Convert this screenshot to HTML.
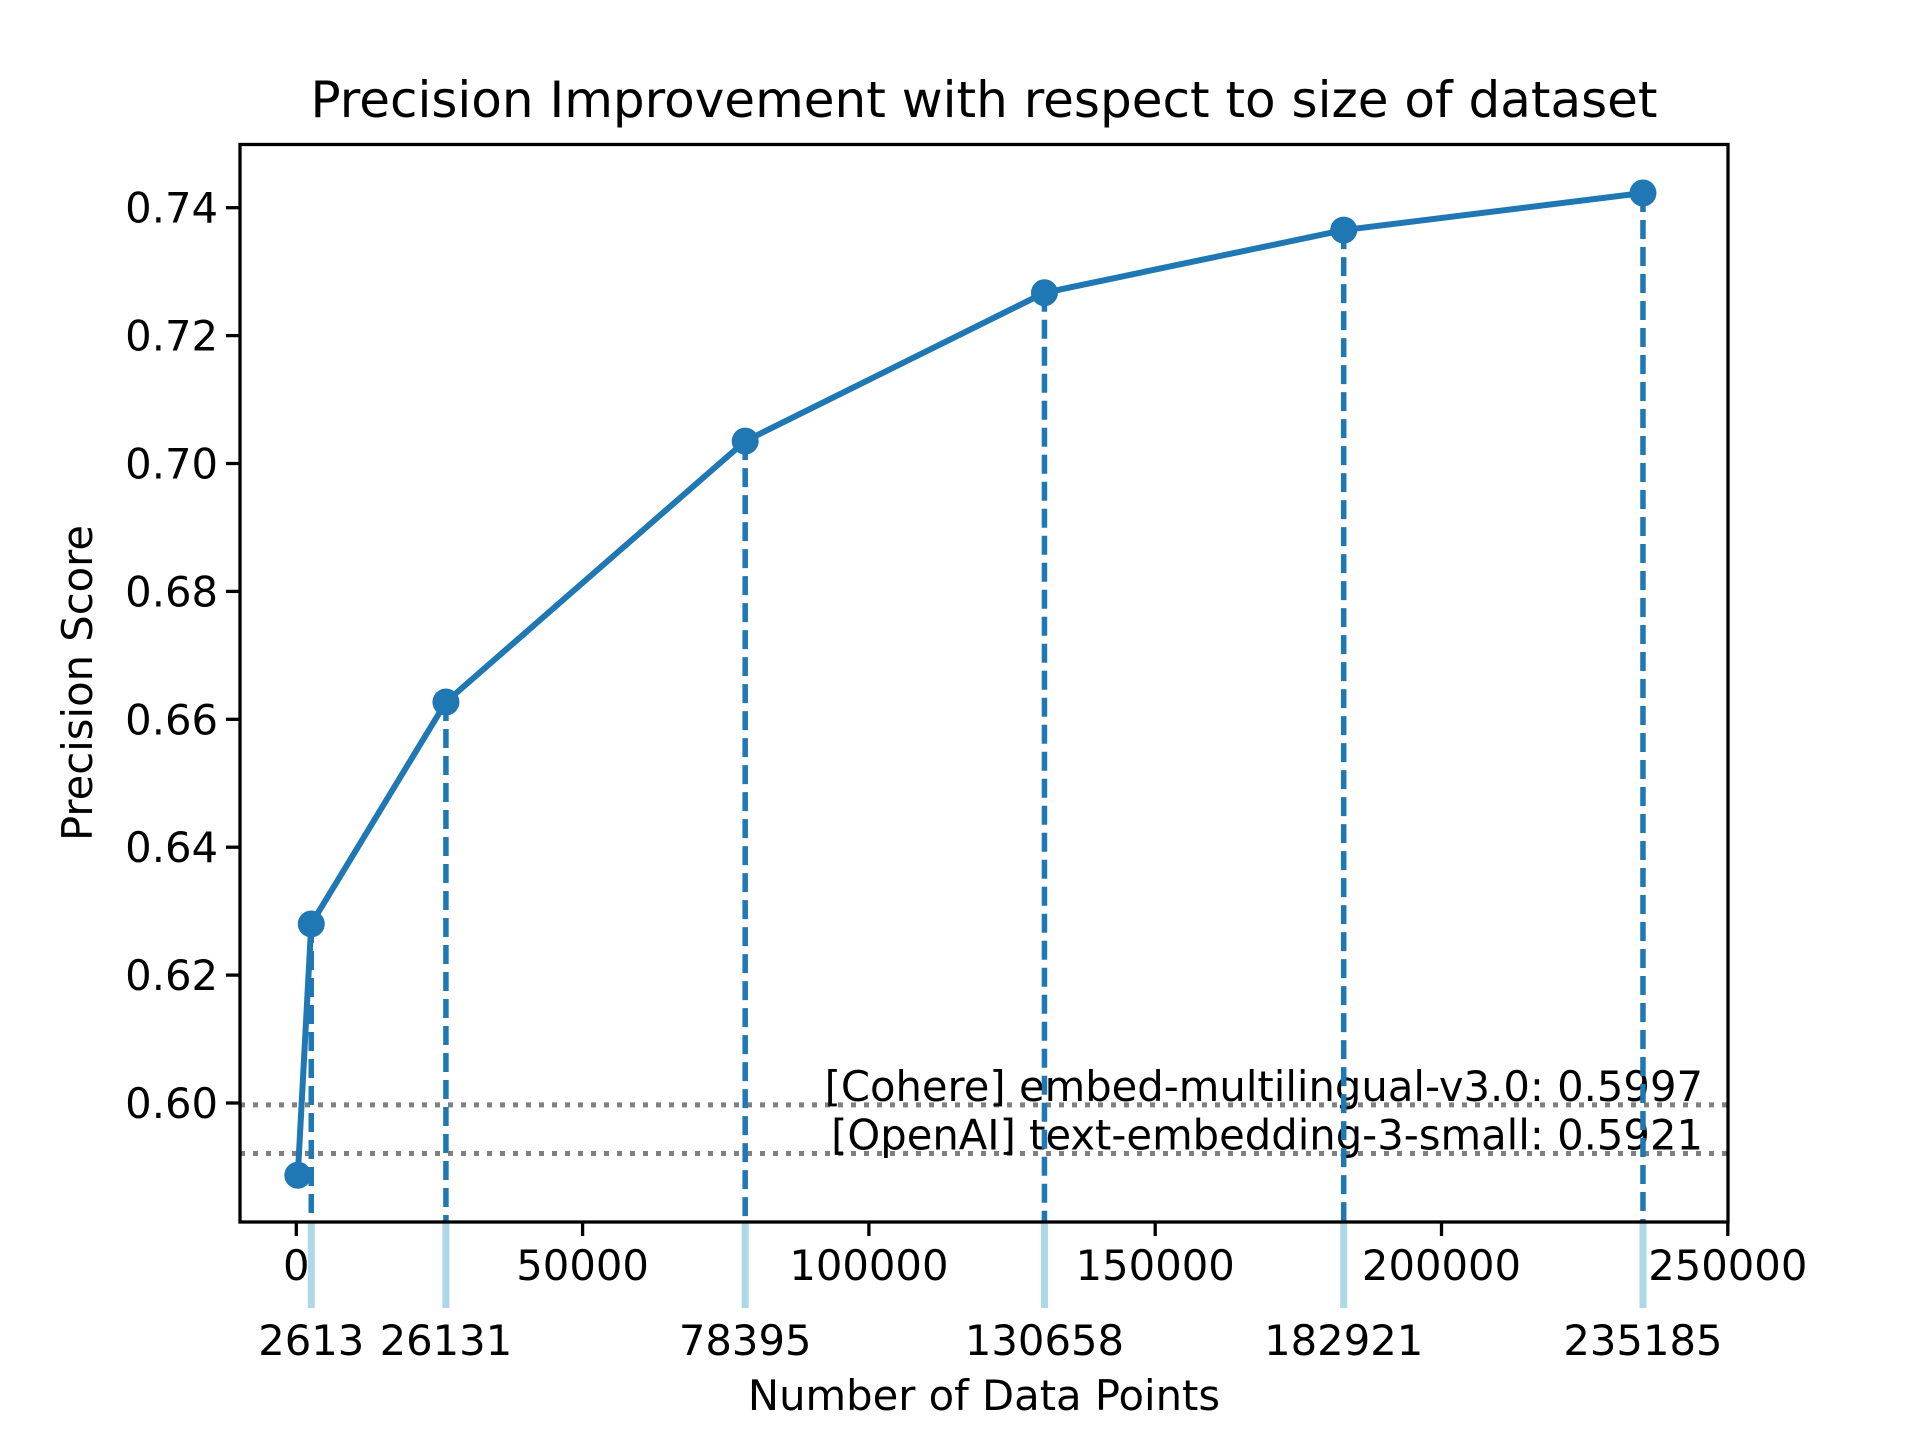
<!DOCTYPE html>
<html><head><meta charset="utf-8"><style>
html,body{margin:0;padding:0;background:#fff;}
svg{display:block;font-family:"DejaVu Sans","Liberation Sans",sans-serif;}
</style></head><body>
<svg id="chart" width="1920" height="1440" viewBox="0 0 1920 1440" xmlns="http://www.w3.org/2000/svg">
<rect width="1920" height="1440" fill="#fff"/>
<text x="984" y="117" font-size="50" text-anchor="middle">Precision Improvement with respect to size of dataset</text>
<text x="984" y="1410" font-size="41.7" text-anchor="middle">Number of Data Points</text>
<text transform="translate(92,683) rotate(-90)" font-size="41.7" text-anchor="middle">Precision Score</text>
<g id="plot"></g>
<rect x="240" y="144.5" width="1488" height="1077.5" fill="none" stroke="#000" stroke-width="3.3"/>
</svg>
<script>
const xValues = [261, 2613, 26131, 78395, 130658, 182921, 235185];
const precision = [0.5887, 0.6280, 0.6627, 0.7035, 0.7267, 0.7365, 0.7423];
const baselineLabels = ["[Cohere] embed-multilingual-v3.0: 0.5997", "[OpenAI] text-embedding-3-small: 0.5921"];
const baselineValues = [0.5997, 0.5921];
const xTicks = [0, 50000, 100000, 150000, 200000, 250000];
const yTicks = [0.60, 0.62, 0.64, 0.66, 0.68, 0.70, 0.72, 0.74];
const secondaryTicks = [2613, 26131, 78395, 130658, 182921, 235185];

const L=240,R=1728,T=144.5,B=1222;
const sx = v => 296.3 + v/50000*286.3;
const sy = v => 1103 - (v-0.6)/0.02*127.9;
const NS="http://www.w3.org/2000/svg";
const g=document.getElementById('plot');
function mk(tag,attrs,parent){const e=document.createElementNS(NS,tag);for(const k in attrs)e.setAttribute(k,attrs[k]);(parent||g).appendChild(e);return e;}

baselineValues.forEach((v,i)=>{
  const l=mk('line',{x1:L,x2:R,y1:sy(v),y2:sy(v),stroke:'#808080','stroke-width':5,'stroke-dasharray':'5 8'});
  
  
  const t=mk('text',{x:1703,y:sy(v)-4,'font-size':41.7,'text-anchor':'end'});
  t.textContent=baselineLabels[i];
  
  
});
secondaryTicks.forEach(v=>{
  const l=mk('line',{x1:sx(v),x2:sx(v),y1:B,y2:1308,stroke:'#add8e6','stroke-width':7});
  
  
  const t=mk('text',{x:sx(v),y:1355,'font-size':41.7,'text-anchor':'middle'});
  t.textContent=String(v);
  
  
});
xValues.forEach((v,i)=>{
  if(i===0)return;
  const l=mk('line',{x1:sx(v),x2:sx(v),y1:sy(precision[i]),y2:B,stroke:'#1f77b4','stroke-width':5.5,'stroke-dasharray':'19 8'});
  
  
});
const pl=mk('polyline',{points:xValues.map((v,i)=>sx(v)+','+sy(precision[i])).join(' '),fill:'none',stroke:'#1f77b4','stroke-width':6});


xValues.forEach((v,i)=>{
  const c=mk('circle',{cx:sx(v),cy:sy(precision[i]),r:13.5,fill:'#1f77b4'});
  
  
});
xTicks.forEach(v=>{
  const l=mk('line',{x1:sx(v),x2:sx(v),y1:B,y2:B+14,stroke:'#000','stroke-width':3.3});
  
  
  const t=mk('text',{x:sx(v),y:B+58,'font-size':41.7,'text-anchor':'middle'});
  t.textContent=String(v);
  
  
});
yTicks.forEach(v=>{
  const l=mk('line',{x1:L-14,x2:L,y1:sy(v),y2:sy(v),stroke:'#000','stroke-width':3.3});
  
  
  const t=mk('text',{x:L-22,y:sy(v)+15,'font-size':41.7,'text-anchor':'end'});
  t.textContent=v.toFixed(2);
  
  
});
</script>
</body></html>
